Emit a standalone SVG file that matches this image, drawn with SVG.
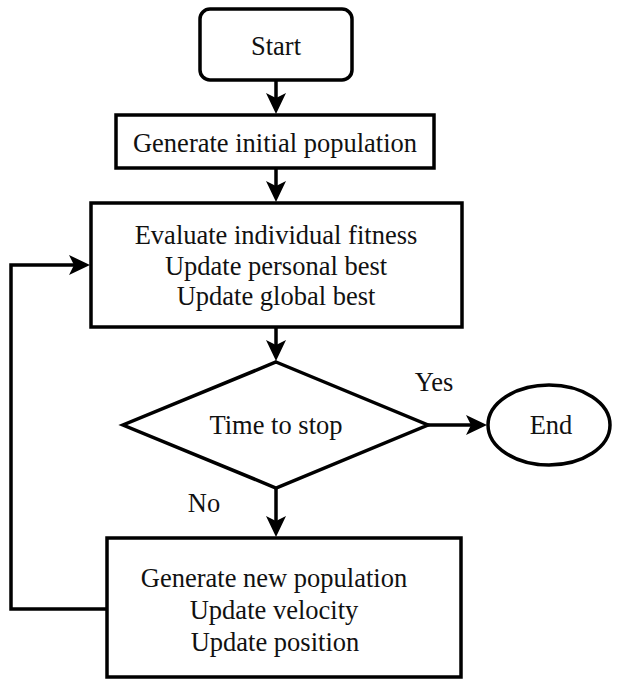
<svg xmlns="http://www.w3.org/2000/svg" width="619" height="682" viewBox="0 0 619 682">
  <style>
    .shape { fill: #fff; stroke: #000; stroke-width: 3.5; }
    .edge { fill: none; stroke: #000; stroke-width: 3.5; }
    .lbl { font-size: 26.5px; fill: #111; text-anchor: middle; }
  </style>
  <defs>
    <marker id="arrow" markerUnits="userSpaceOnUse" markerWidth="21" markerHeight="20" viewBox="0 0 21 20" refX="11" refY="10" orient="auto">
      <path d="M0,0 L21,10 L0,20 L5,10 Z" fill="#000"/>
    </marker>
  </defs>
  <rect width="619" height="682" fill="#fff"/>

  <g font-family="Liberation Serif, Times New Roman, serif">
  <g id="connectors">
    <path class="edge" d="M276,80 V104" marker-end="url(#arrow)"/>
    <path class="edge" d="M276,168 V192" marker-end="url(#arrow)"/>
    <path class="edge" d="M276,327 V351" marker-end="url(#arrow)"/>
    <path class="edge" d="M428,425 H477" marker-end="url(#arrow)"/>
    <path class="edge" d="M276,488 V527" marker-end="url(#arrow)"/>
    <path class="edge" d="M107,609 H11 V265 H80" marker-end="url(#arrow)"/>
    <text class="lbl" x="434" y="391">Yes</text>
    <text class="lbl" x="204" y="512">No</text>
  </g>

  <g id="start">
    <rect class="shape" x="200" y="9" width="152" height="71" rx="10"/>
    <text class="lbl" x="276" y="55">Start</text>
  </g>

  <g id="init">
    <rect class="shape" x="116" y="115" width="318" height="53"/>
    <text class="lbl" x="275" y="152">Generate initial population</text>
  </g>

  <g id="evaluate">
    <rect class="shape" x="91" y="203" width="371" height="124"/>
    <text class="lbl" x="276" y="244">Evaluate individual fitness</text>
    <text class="lbl" x="276" y="275">Update personal best</text>
    <text class="lbl" x="276" y="305">Update global best</text>
  </g>

  <g id="decision">
    <polygon class="shape" points="276,362 428,425 276,488 123,425"/>
    <text class="lbl" x="276" y="434">Time to stop</text>
  </g>

  <g id="end">
    <ellipse class="shape" cx="549" cy="425" rx="61" ry="40"/>
    <text class="lbl" x="551" y="434">End</text>
  </g>

  <g id="update">
    <rect class="shape" x="107" y="538" width="354" height="139"/>
    <text class="lbl" x="274" y="587">Generate new population</text>
    <text class="lbl" x="274" y="619">Update velocity</text>
    <text class="lbl" x="275" y="651">Update position</text>
  </g>
  </g>
</svg>
